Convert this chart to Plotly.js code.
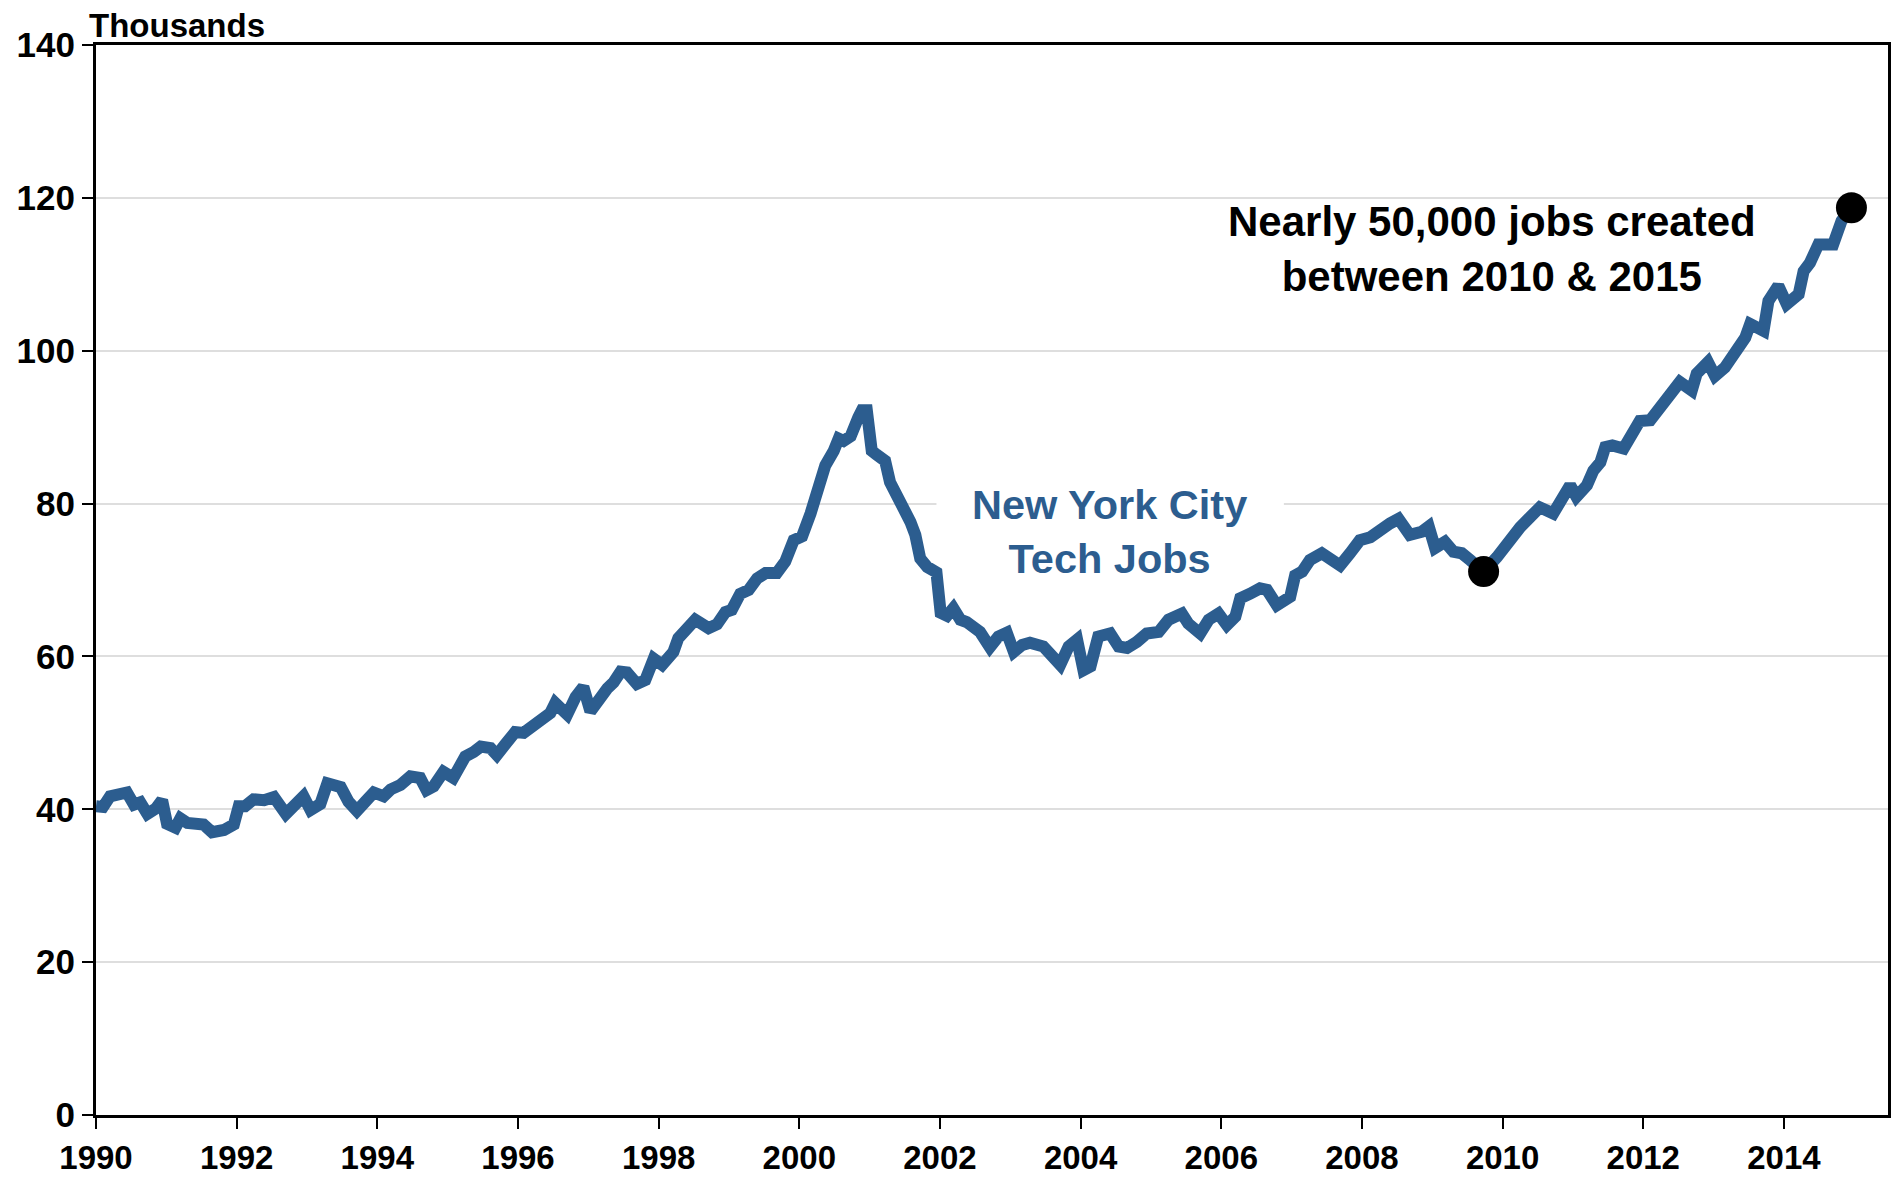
<!DOCTYPE html>
<html>
<head>
<meta charset="utf-8">
<script src="https://cdn.plot.ly/plotly-3.0.1.min.js"></script>
<style>
  html, body { margin: 0; padding: 0; background: #ffffff; }
  #chart { width: 1895px; height: 1181px; }
</style>
</head>
<body>
<div id="chart"></div>
<script>
// Decimal year of each reading
const years = [
  1990.00, 1990.10, 1990.20, 1990.30, 1990.44, 1990.54, 1990.63, 1990.73, 1990.85, 1990.94,
  1991.01, 1991.13, 1991.20, 1991.30, 1991.44, 1991.53, 1991.65, 1991.82, 1991.96,
  1992.03, 1992.12, 1992.24, 1992.39, 1992.53, 1992.70, 1992.84, 1992.95,
  1993.05, 1993.19, 1993.29, 1993.41, 1993.48, 1993.59, 1993.71, 1993.83, 1993.95,
  1994.09, 1994.19, 1994.33, 1994.47, 1994.61, 1994.70, 1994.80, 1994.94,
  1995.08, 1995.25, 1995.37, 1995.47, 1995.61, 1995.70, 1995.82, 1995.96,
  1996.08, 1996.22, 1996.37, 1996.46, 1996.53, 1996.70, 1996.82, 1996.93,
  1997.03, 1997.15, 1997.27, 1997.36, 1997.46, 1997.55, 1997.69, 1997.81, 1997.93,
  1998.05, 1998.21, 1998.28, 1998.38, 1998.52, 1998.71, 1998.83, 1998.95,
  1999.04, 1999.16, 1999.28, 1999.40, 1999.52, 1999.68, 1999.80, 1999.92,
  2000.04, 2000.16, 2000.28, 2000.37, 2000.49, 2000.56, 2000.63, 2000.73, 2000.84, 2000.89, 2000.96,
  2001.03, 2001.10, 2001.22, 2001.29, 2001.39, 2001.48, 2001.58, 2001.65, 2001.72, 2001.82, 2001.95,
  2002.01, 2002.10, 2002.19, 2002.29, 2002.38, 2002.57, 2002.71, 2002.83, 2002.95,
  2003.05, 2003.17, 2003.28, 2003.47, 2003.59, 2003.71, 2003.83, 2003.95,
  2004.04, 2004.14, 2004.25, 2004.42, 2004.54, 2004.66, 2004.80, 2004.94,
  2005.11, 2005.25, 2005.44, 2005.53, 2005.70, 2005.82, 2005.96,
  2006.08, 2006.20, 2006.27, 2006.41, 2006.55, 2006.65, 2006.79, 2006.98,
  2007.05, 2007.15, 2007.26, 2007.43, 2007.55, 2007.69, 2007.83, 2007.97,
  2008.12, 2008.28, 2008.40, 2008.52, 2008.68, 2008.85, 2008.95,
  2009.04, 2009.18, 2009.30, 2009.42, 2009.54, 2009.73, 2009.92,
  2010.06, 2010.25, 2010.39, 2010.53, 2010.72, 2010.84, 2010.96,
  2011.05, 2011.20, 2011.29, 2011.39, 2011.46, 2011.56, 2011.72, 2011.86, 2011.95,
  2012.10, 2012.24, 2012.43, 2012.52, 2012.69, 2012.76, 2012.92,
  2013.02, 2013.16, 2013.31, 2013.45, 2013.52, 2013.71, 2013.78, 2013.92,
  2014.04, 2014.21, 2014.28, 2014.37, 2014.49, 2014.70, 2014.82, 2014.96
];

// NYC tech jobs, thousands
const techJobs = [
  40.4, 40.3, 41.7, 42.0, 42.2, 40.6, 40.9, 39.4, 40.1, 41.2,
  38.1, 37.6, 38.8, 38.2, 38.1, 38.0, 37.0, 37.3, 38.0,
  40.4, 40.4, 41.3, 41.2, 41.6, 39.4, 40.7, 41.7,
  39.9, 40.7, 43.4, 43.0, 42.9, 41.0, 39.8, 41.0, 42.2,
  41.7, 42.6, 43.2, 44.3, 44.1, 42.5, 43.0, 44.9,
  44.1, 46.9, 47.5, 48.2, 48.0, 47.1, 48.5, 50.1,
  50.0, 51.0, 52.2, 52.6, 53.9, 52.4, 54.7, 56.0,
  52.8, 54.5, 55.8, 56.6, 58.0, 57.9, 56.4, 56.9, 59.7,
  58.9, 60.6, 62.4, 63.2, 64.8, 63.7, 64.2, 65.8,
  66.1, 68.2, 68.7, 70.2, 70.9, 70.9, 72.4, 75.2,
  75.7, 78.7, 82.6, 85.0, 86.9, 88.5, 88.2, 88.8, 91.3, 92.2, 92.2,
  86.9, 86.4, 85.6, 82.8, 81.1, 79.8, 77.6, 75.9, 72.8, 71.7, 71.0,
  65.7, 65.3, 66.3, 64.8, 64.5, 63.2, 61.2, 62.6, 63.1,
  60.6, 61.5, 61.8, 61.3, 59.8, 58.9, 61.3, 62.2,
  58.2, 58.7, 62.6, 63.0, 61.3, 61.1, 61.9, 63.0,
  63.2, 64.8, 65.6, 64.3, 63.0, 64.8, 65.6,
  64.1, 65.2, 67.6, 68.2, 68.9, 68.7, 66.7, 67.8,
  70.6, 71.1, 72.6, 73.5, 72.6, 71.9, 73.5, 75.2,
  75.6, 76.9, 77.4, 78.0, 75.9, 76.3, 77.0,
  74.2, 75.0, 73.7, 73.5, 72.6, 71.1, 73.0,
  74.8, 76.9, 78.2, 79.5, 78.7, 80.9, 82.4,
  80.9, 82.4, 84.3, 85.4, 87.4, 87.6, 87.2, 89.3, 90.8,
  90.9, 92.6, 95.2, 95.9, 94.8, 97.0, 98.5,
  96.7, 97.8, 99.6, 101.7, 103.5, 102.6, 106.5, 108.5,
  106.1, 107.4, 110.4, 111.5, 113.9, 113.9, 117.0, 118.7
];

// Highlighted points: trough and latest reading
const markerYears = [2009.73, 2014.96];
const markerJobs = [71.1, 118.7];

const yTicks = [0, 20, 40, 60, 80, 100, 120, 140];
const xTicks = [1990, 1992, 1994, 1996, 1998, 2000, 2002, 2004, 2006, 2008, 2010, 2012, 2014];
const xTickLabels = xTicks.map(String);

const seriesLabel = "New York City<br>Tech Jobs";
const calloutLabel = "Nearly 50,000 jobs created<br>between 2010 &amp; 2015";

const lineColor = "#2c5d8f";
const fontFamily = "Liberation Sans, Arial, sans-serif";

const traces = [
  {
    x: years, y: techJobs, type: "scatter", mode: "lines",
    line: { color: lineColor, width: 12, shape: "linear" },
    hoverinfo: "skip", showlegend: false
  },
  {
    x: markerYears, y: markerJobs, type: "scatter", mode: "markers",
    marker: { color: "#000000", size: 31, line: { width: 0 } },
    hoverinfo: "skip", showlegend: false
  }
];

const layout = {
  width: 1895, height: 1181,
  margin: { l: 96, r: 7, t: 45, b: 66, pad: 0 },
  paper_bgcolor: "#ffffff", plot_bgcolor: "#ffffff",
  showlegend: false,
  font: { family: fontFamily, color: "#000000" },
  xaxis: {
    range: [1990, 2015.48],
    tickmode: "array", tickvals: xTicks, ticktext: xTickLabels,
    showgrid: false, zeroline: false,
    showline: true, linecolor: "#000000", linewidth: 3, mirror: true,
    ticks: "outside", ticklen: 11, tickwidth: 2, tickcolor: "#000000",
    ticklabelstandoff: 0,
    tickfont: { family: fontFamily, size: 33, weight: 700, color: "#000000" }
  },
  yaxis: {
    range: [0, 140],
    tickmode: "array", tickvals: yTicks,
    showgrid: true, gridcolor: "#dedede", gridwidth: 2,
    zeroline: false,
    showline: true, linecolor: "#000000", linewidth: 3, mirror: true,
    ticks: "outside", ticklen: 11, tickwidth: 2, tickcolor: "#000000",
    tickfont: { family: fontFamily, size: 35, weight: 700, color: "#000000" }
  },
  shapes: [
    {
      type: "rect", layer: "between", xref: "x", yref: "y",
      x0: 2001.95, x1: 2006.89, y0: 78.5, y1: 81.5,
      fillcolor: "#ffffff", line: { width: 0 }
    }
  ],
  annotations: [
    {
      text: "Thousands", xref: "paper", yref: "paper", x: 0, y: 1,
      xanchor: "left", yanchor: "bottom", xshift: -9, yshift: -1, showarrow: false,
      font: { family: fontFamily, size: 33, weight: 700, color: "#000000" }
    },
    {
      text: seriesLabel, xref: "x", yref: "y", x: 2004.41, y: 76.4,
      xanchor: "center", yanchor: "middle", showarrow: false, align: "center",
      font: { family: fontFamily, size: 41.5, weight: 700, color: lineColor }
    },
    {
      text: calloutLabel, xref: "x", yref: "y", x: 2009.85, y: 113.3,
      xanchor: "center", yanchor: "middle", showarrow: false, align: "center",
      font: { family: fontFamily, size: 42, weight: 700, color: "#000000" }
    }
  ]
};

Plotly.newPlot("chart", traces, layout, { displayModeBar: false, staticPlot: true });
</script>
</body>
</html>
